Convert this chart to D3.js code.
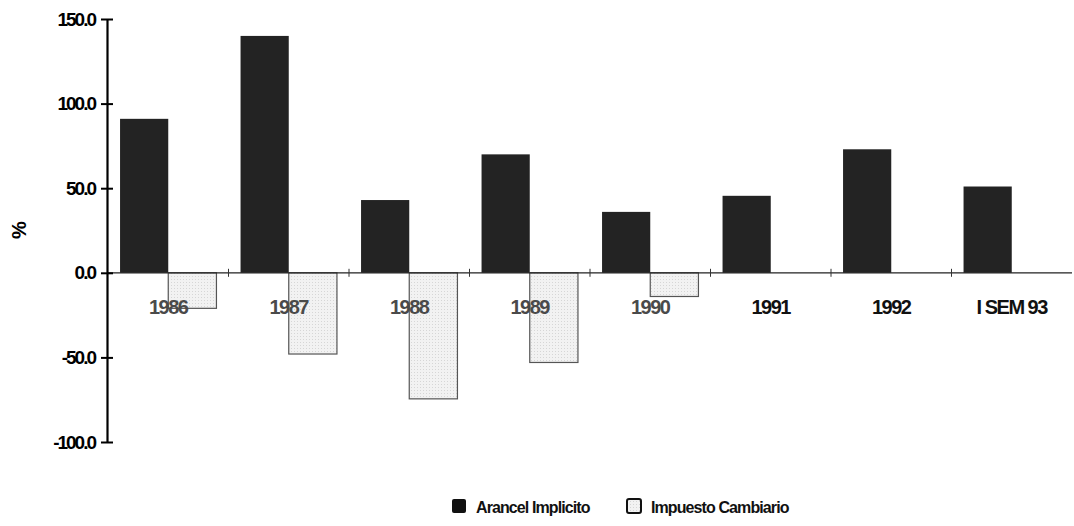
<!DOCTYPE html>
<html>
<head>
<meta charset="utf-8">
<script src="https://cdn.jsdelivr.net/npm/d3@7"></script>
<style>
  body { margin: 0; background: #fff; }
  svg { font-family: "Liberation Sans", Arial, sans-serif; }
</style>
</head>
<body>
<div id="chart"></div>
<script>
// data
const categories = ['1986', '1987', '1988', '1989', '1990', '1991', '1992', 'I SEM 93'];
const arancel = [91, 140, 43, 70, 36, 45.5, 73, 51];
const impuesto = [-21, -48, -74.5, -53, -14, 0, 0, 0];
const yTicks = [150, 100, 50, 0, -50, -100];
const seriesNames = ['Arancel Implicito', 'Impuesto Cambiario'];

const width = 1074;
const height = 526;

const svg = d3.select('#chart')
  .append('svg')
  .attr('width', width)
  .attr('height', height);

// dotted fill for the second series
const defs = svg.append('defs');
const pat = defs.append('pattern')
  .attr('id', 'dots')
  .attr('width', 3)
  .attr('height', 3)
  .attr('patternUnits', 'userSpaceOnUse');
pat.append('rect').attr('width', 3).attr('height', 3).attr('fill', '#f2f2f2');
pat.append('rect').attr('width', 1).attr('height', 1).attr('fill', '#d6d6d6');

const x = d3.scaleBand()
  .domain(categories)
  .range([108, 1072])
  .paddingInner(0)
  .paddingOuter(0);

const y = d3.scaleLinear()
  .domain([-100, 150])
  .range([442, 19]);

const inner = x.bandwidth() * 0.1;
const barW = (x.bandwidth() - 2 * inner) / 2;

// Arancel bars
svg.append('g')
  .selectAll('rect')
  .data(arancel)
  .enter()
  .append('rect')
  .attr('x', (d, i) => x(categories[i]) + inner)
  .attr('y', d => y(Math.max(0, d)))
  .attr('width', barW)
  .attr('height', d => Math.abs(y(d) - y(0)))
  .attr('fill', '#232323');

// Impuesto bars
svg.append('g')
  .selectAll('rect')
  .data(impuesto.map((v, i) => ({ v, i })).filter(d => d.v !== 0))
  .enter()
  .append('rect')
  .attr('x', d => x(categories[d.i]) + inner + barW)
  .attr('y', d => y(Math.max(0, d.v)))
  .attr('width', barW)
  .attr('height', d => Math.abs(y(d.v) - y(0)))
  .attr('fill', 'url(#dots)')
  .attr('stroke', '#555')
  .attr('stroke-width', 1.2);

// x axis line with small ticks at band edges
const xg = svg.append('g');
xg.append('line')
  .attr('x1', 107).attr('x2', 1072)
  .attr('y1', y(0)).attr('y2', y(0))
  .attr('stroke', '#222')
  .attr('stroke-width', 1.3);
xg.selectAll('line.tk')
  .data(categories.slice(1))
  .enter()
  .append('line')
  .attr('class', 'tk')
  .attr('x1', d => x(d)).attr('x2', d => x(d))
  .attr('y1', y(0) - 4).attr('y2', y(0) + 4)
  .attr('stroke', '#333')
  .attr('stroke-width', 1);
xg.selectAll('text')
  .data(categories)
  .enter()
  .append('text')
  .attr('x', d => x(d) + x.bandwidth() / 2)
  .attr('y', y(0) + 41)
  .attr('text-anchor', 'middle')
  .attr('font-size', 20)
  .attr('font-weight', 'bold')
  .attr('letter-spacing', '-1.5px')
  .attr('fill', (d, i) => i < 5 ? '#4a4a4a' : '#111')
  .text(d => d);

// y axis
const yAxis = d3.axisLeft(y)
  .tickValues(yTicks)
  .tickSize(0)
  .tickPadding(12)
  .tickFormat(d => d3.format('.1f')(d).replace('\u2212', '-'));

const yg = svg.append('g')
  .attr('transform', 'translate(107,0)')
  .call(yAxis);
yg.select('.domain').attr('stroke', '#000').attr('stroke-width', 2.2);
yg.selectAll('.tick line').remove();
yg.selectAll('.tick')
  .append('line')
  .attr('x1', -6).attr('x2', 6)
  .attr('stroke', '#000')
  .attr('stroke-width', 2);
yg.selectAll('.tick text')
  .attr('font-size', 19)
  .attr('font-weight', 'bold')
  .attr('letter-spacing', '-2px')
  .attr('fill', '#000')
  .attr('font-family', '"Liberation Sans", Arial, sans-serif');

svg.append('text')
  .attr('transform', 'translate(26,230) rotate(-90)')
  .attr('text-anchor', 'middle')
  .attr('font-size', 20)
  .attr('font-weight', 'bold')
  .text('%');

// legend
const legend = svg.append('g');
const legendX = [452, 627];
legend.selectAll('rect')
  .data(seriesNames)
  .enter()
  .append('rect')
  .attr('x', (d, i) => legendX[i])
  .attr('y', 499)
  .attr('width', 14)
  .attr('height', 14)
  .attr('rx', 2)
  .attr('fill', (d, i) => i === 0 ? '#111' : 'url(#dots)')
  .attr('stroke', '#111')
  .attr('stroke-width', (d, i) => i === 0 ? 0 : 2);
legend.selectAll('text')
  .data(seriesNames)
  .enter()
  .append('text')
  .attr('x', (d, i) => legendX[i] + 24)
  .attr('y', 513)
  .attr('font-size', 16)
  .attr('font-weight', 'bold')
  .attr('letter-spacing', '-0.9px')
  .attr('fill', '#111')
  .text(d => d);
</script>
</body>
</html>
